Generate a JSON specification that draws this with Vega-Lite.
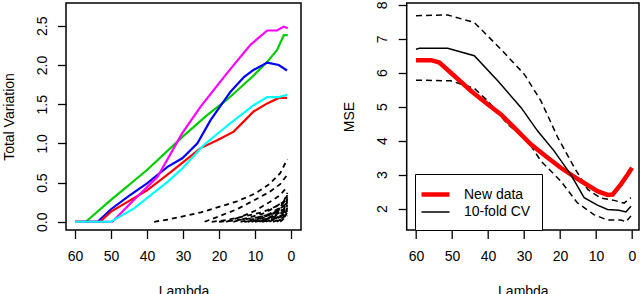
{
"$schema": "https://vega.github.io/schema/vega-lite/v6.json",
"background": "white",
"padding": {"left": 1, "top": 0, "right": 0, "bottom": 0},
"bounds": "flush",
"spacing": 105.7,
"resolve": {"scale": {"color": "independent", "strokeWidth": "independent"}, "legend": {"color": "independent", "strokeWidth": "independent"}},
"datasets": {
"tv": [
{"s":"g","l":60,"v":0},{"s":"g","l":57,"v":0},{"s":"g","l":50,"v":0.28},{"s":"g","l":40,"v":0.66},{"s":"g","l":30,"v":1.09},{"s":"g","l":23.3,"v":1.36},{"s":"g","l":17.7,"v":1.56},{"s":"g","l":10.3,"v":1.87},{"s":"g","l":6.6,"v":2.04},{"s":"g","l":3.9,"v":2.19},{"s":"g","l":2,"v":2.38},{"s":"g","l":0.9,"v":2.38},
{"s":"b","l":60,"v":0},{"s":"b","l":53.7,"v":0},{"s":"b","l":50,"v":0.16},{"s":"b","l":45,"v":0.33},{"s":"b","l":40,"v":0.49},{"s":"b","l":34.3,"v":0.7},{"s":"b","l":30.2,"v":0.81},{"s":"b","l":26,"v":1.0},{"s":"b","l":22.3,"v":1.3},{"s":"b","l":16.8,"v":1.66},{"s":"b","l":13,"v":1.85},{"s":"b","l":10.3,"v":1.94},{"s":"b","l":6.6,"v":2.03},{"s":"b","l":3.4,"v":2.0},{"s":"b","l":1.1,"v":1.93},
{"s":"r","l":60,"v":0},{"s":"r","l":53,"v":0},{"s":"r","l":50,"v":0.13},{"s":"r","l":40,"v":0.4},{"s":"r","l":34.3,"v":0.6},{"s":"r","l":30.2,"v":0.75},{"s":"r","l":25.1,"v":0.94},{"s":"r","l":20.5,"v":1.04},{"s":"r","l":15.9,"v":1.15},{"s":"r","l":10.3,"v":1.41},{"s":"r","l":6.6,"v":1.51},{"s":"r","l":3.4,"v":1.58},{"s":"r","l":1.1,"v":1.58},
{"s":"m","l":60,"v":0},{"s":"m","l":49.6,"v":0},{"s":"m","l":43.6,"v":0.28},{"s":"m","l":37.1,"v":0.57},{"s":"m","l":30.2,"v":1.13},{"s":"m","l":25.1,"v":1.47},{"s":"m","l":17.7,"v":1.9},{"s":"m","l":11.2,"v":2.26},{"s":"m","l":6.6,"v":2.44},{"s":"m","l":3.9,"v":2.44},{"s":"m","l":2,"v":2.49},{"s":"m","l":0.9,"v":2.47},
{"s":"c","l":60,"v":0},{"s":"c","l":50,"v":0},{"s":"c","l":43.6,"v":0.17},{"s":"c","l":34.3,"v":0.51},{"s":"c","l":30.2,"v":0.68},{"s":"c","l":24.2,"v":0.98},{"s":"c","l":16.8,"v":1.26},{"s":"c","l":10.3,"v":1.49},{"s":"c","l":6.6,"v":1.59},{"s":"c","l":3.4,"v":1.59},{"s":"c","l":1.1,"v":1.62}
],
"dash": [
{"s":"d1","l":38,"v":0},{"s":"d1","l":34,"v":0.03},{"s":"d1","l":30,"v":0.07},{"s":"d1","l":25,"v":0.12},{"s":"d1","l":20,"v":0.19},{"s":"d1","l":15,"v":0.26},{"s":"d1","l":10,"v":0.36},{"s":"d1","l":6,"v":0.48},{"s":"d1","l":3,"v":0.62},{"s":"d1","l":1,"v":0.8},
{"s":"d2","l":24,"v":0},{"s":"d2","l":20,"v":0.07},{"s":"d2","l":15,"v":0.16},{"s":"d2","l":10,"v":0.28},{"s":"d2","l":6,"v":0.38},{"s":"d2","l":3,"v":0.48},{"s":"d2","l":1,"v":0.6},
{"s":"d3","l":18,"v":0},{"s":"d3","l":14,"v":0.06},{"s":"d3","l":10,"v":0.14},{"s":"d3","l":6,"v":0.25},{"s":"d3","l":3,"v":0.34},{"s":"d3","l":1,"v":0.45},
{"s":"d4","l":16,"v":0},{"s":"d4","l":12,"v":0.05},{"s":"d4","l":8,"v":0.1},{"s":"d4","l":5,"v":0.17},{"s":"d4","l":2,"v":0.26},{"s":"d4","l":1,"v":0.37},
{"s":"d5","l":14,"v":0},{"s":"d5","l":10,"v":0.04},{"s":"d5","l":6,"v":0.1},{"s":"d5","l":3,"v":0.18},{"s":"d5","l":1,"v":0.32},
{"s":"d6","l":12,"v":0},{"s":"d6","l":8,"v":0.05},{"s":"d6","l":5,"v":0.11},{"s":"d6","l":2,"v":0.2},{"s":"d6","l":1,"v":0.28},
{"s":"d7","l":11,"v":0},{"s":"d7","l":7,"v":0.06},{"s":"d7","l":4,"v":0.14},{"s":"d7","l":1,"v":0.24},
{"s":"d8","l":10,"v":0},{"s":"d8","l":6,"v":0.04},{"s":"d8","l":3,"v":0.1},{"s":"d8","l":1,"v":0.2},
{"s":"d9","l":9,"v":0},{"s":"d9","l":5,"v":0.07},{"s":"d9","l":2,"v":0.15},{"s":"d9","l":1,"v":0.3},
{"s":"d10","l":8,"v":0},{"s":"d10","l":5,"v":0.03},{"s":"d10","l":2,"v":0.09},{"s":"d10","l":1,"v":0.16},
{"s":"d11","l":7,"v":0},{"s":"d11","l":4,"v":0.05},{"s":"d11","l":2,"v":0.12},{"s":"d11","l":1,"v":0.22},
{"s":"d12","l":6,"v":0},{"s":"d12","l":3,"v":0.06},{"s":"d12","l":1,"v":0.14},
{"s":"d13","l":5,"v":0},{"s":"d13","l":3,"v":0.03},{"s":"d13","l":1,"v":0.1},
{"s":"d14","l":4,"v":0},{"s":"d14","l":2,"v":0.05},{"s":"d14","l":1,"v":0.12},
{"s":"d15","l":13,"v":0},{"s":"d15","l":9,"v":0.02},{"s":"d15","l":5,"v":0.05},{"s":"d15","l":2,"v":0.09},{"s":"d15","l":1,"v":0.18},
{"s":"d16","l":20,"v":0},{"s":"d16","l":15,"v":0.02},{"s":"d16","l":10,"v":0.05},{"s":"d16","l":5,"v":0.1},{"s":"d16","l":2,"v":0.16},{"s":"d16","l":1,"v":0.26},
{"s":"d17","l":3,"v":0},{"s":"d17","l":2,"v":0.04},{"s":"d17","l":1,"v":0.08},
{"s":"d18","l":8.5,"v":0},{"s":"d18","l":4,"v":0.1},{"s":"d18","l":1,"v":0.34},
{"s":"d19","l":22,"v":0},{"s":"d19","l":18,"v":0.02},{"s":"d19","l":13,"v":0.07},{"s":"d19","l":8,"v":0.12},{"s":"d19","l":4,"v":0.2},{"s":"d19","l":1,"v":0.28}
],
"main": [
{"s":"New data","l":60,"v":6.37},{"s":"New data","l":55.8,"v":6.37},{"s":"New data","l":53.5,"v":6.3},{"s":"New data","l":49.4,"v":5.91},{"s":"New data","l":44.7,"v":5.46},{"s":"New data","l":40.1,"v":5.07},{"s":"New data","l":36.4,"v":4.77},{"s":"New data","l":32.7,"v":4.38},{"s":"New data","l":28.1,"v":3.89},{"s":"New data","l":23.5,"v":3.5},{"s":"New data","l":19.8,"v":3.2},{"s":"New data","l":14.2,"v":2.81},{"s":"New data","l":9.6,"v":2.51},{"s":"New data","l":6.8,"v":2.4},{"s":"New data","l":5.4,"v":2.41},{"s":"New data","l":3.1,"v":2.71},{"s":"New data","l":1.2,"v":3.0},{"s":"New data","l":0,"v":3.2},
{"s":"10-fold CV","l":60,"v":6.69},{"s":"10-fold CV","l":59,"v":6.72},{"s":"10-fold CV","l":51.2,"v":6.72},{"s":"10-fold CV","l":43.8,"v":6.5},{"s":"10-fold CV","l":37.3,"v":5.76},{"s":"10-fold CV","l":30.8,"v":4.97},{"s":"10-fold CV","l":26.2,"v":4.28},{"s":"10-fold CV","l":21.6,"v":3.69},{"s":"10-fold CV","l":17,"v":3.0},{"s":"10-fold CV","l":13.3,"v":2.32},{"s":"10-fold CV","l":9.6,"v":2.1},{"s":"10-fold CV","l":6.8,"v":1.97},{"s":"10-fold CV","l":3.6,"v":1.95},{"s":"10-fold CV","l":1.7,"v":1.9},{"s":"10-fold CV","l":0.3,"v":2.07}
],
"band": [
{"b":"up","l":60,"v":7.68},{"b":"up","l":51.2,"v":7.7},{"b":"up","l":43.8,"v":7.48},{"b":"up","l":36.4,"v":6.69},{"b":"up","l":29.9,"v":5.95},{"b":"up","l":25.3,"v":5.17},{"b":"up","l":20.6,"v":4.09},{"b":"up","l":16,"v":3.2},{"b":"up","l":12.3,"v":2.56},{"b":"up","l":8.7,"v":2.31},{"b":"up","l":5,"v":2.24},{"b":"up","l":2.2,"v":2.16},{"b":"up","l":0.3,"v":2.32},
{"b":"lo","l":60,"v":5.78},{"b":"lo","l":50.3,"v":5.76},{"b":"lo","l":43.8,"v":5.54},{"b":"lo","l":40.1,"v":5.17},{"b":"lo","l":34.5,"v":4.48},{"b":"lo","l":29,"v":3.99},{"b":"lo","l":25.3,"v":3.4},{"b":"lo","l":19.8,"v":2.81},{"b":"lo","l":15.2,"v":2.17},{"b":"lo","l":10.6,"v":1.82},{"b":"lo","l":6.8,"v":1.66},{"b":"lo","l":3.1,"v":1.66},{"b":"lo","l":1.7,"v":1.61},{"b":"lo","l":0.3,"v":1.78}
]
},
"config": {
"view": {"stroke": "black", "strokeWidth": 1.5},
"font": "Liberation Sans",
"axis": {"domain": false, "grid": false, "tickColor": "black", "tickWidth": 1.3, "tickSize": 8.5, "labelFont": "Liberation Sans", "labelFontSize": 14, "labelColor": "black", "titleFont": "Liberation Sans", "titleFontSize": 14, "titleFontWeight": "normal", "titleColor": "black", "labelFlush": false, "labelOverlap": false}
},
"hconcat": [
{
"width": 235, "height": 227,
"layer": [
{"data": {"name": "tv"}, "mark": {"type": "line", "strokeWidth": 2.2},
 "encoding": {
  "x": {"field": "l", "type": "quantitative", "scale": {"domain": [-2.78, 62.5], "reverse": true, "nice": false, "zero": false}, "axis": {"title": "Lambda", "values": [0,10,20,30,40,50,60], "tickCount": 20, "format": "d", "labelOverlap": false, "labelBaseline": "alphabetic", "labelPadding": 22.3, "titleBaseline": "alphabetic", "titleY": 65.7}},
  "y": {"field": "v", "type": "quantitative", "scale": {"domain": [-0.105, 2.791], "nice": false, "zero": false}, "axis": {"title": "Total Variation", "values": [0,0.5,1,1.5,2,2.5], "tickCount": 20, "format": ".1f", "labelOverlap": false, "labelAngle": 270, "labelAlign": "center", "labelBaseline": "alphabetic", "labelPadding": 11, "titleAngle": 270, "titleAlign": "center", "titleBaseline": "alphabetic", "titleX": -53, "titleY": 113.5}},
  "color": {"field": "s", "type": "nominal", "scale": {"domain": ["r","g","b","c","m"], "range": ["#FF0000","#00CD00","#0000FF","#00FFFF","#FF00FF"]}, "legend": null}
 }},
{"data": {"name": "dash"}, "mark": {"type": "line", "strokeWidth": 1.8, "strokeDash": [5,4], "color": "black"},
 "encoding": {
  "x": {"field": "l", "type": "quantitative"},
  "y": {"field": "v", "type": "quantitative"},
  "detail": {"field": "s", "type": "nominal"}
 }},
{"mark": {"type": "rule", "color": "black", "strokeWidth": 2},
 "encoding": {
  "x": {"datum": 60, "type": "quantitative"},
  "x2": {"datum": 1},
  "y": {"datum": 0, "type": "quantitative"}
 }}
]
},
{
"width": 232.3, "height": 227,
"layer": [
{"data": {"name": "band"}, "mark": {"type": "line", "strokeWidth": 1.5, "strokeDash": [6,4], "color": "black"},
 "encoding": {
  "x": {"field": "l", "type": "quantitative", "scale": {"domain": [-1.94, 62.58], "reverse": true, "nice": false, "zero": false}, "axis": {"title": "Lambda", "values": [0,10,20,30,40,50,60], "tickCount": 20, "format": "d", "labelOverlap": false, "labelBaseline": "alphabetic", "labelPadding": 22.3, "titleBaseline": "alphabetic", "titleY": 65.7}},
  "y": {"field": "v", "type": "quantitative", "scale": {"domain": [1.367, 8.053], "nice": false, "zero": false}, "axis": {"title": "MSE", "values": [2,3,4,5,6,7,8], "tickCount": 20, "format": "d", "labelOverlap": false, "labelAngle": 270, "labelAlign": "center", "labelBaseline": "alphabetic", "labelPadding": 11.5, "titleAngle": 270, "titleAlign": "center", "titleBaseline": "alphabetic", "titleX": -53.7, "titleY": 113.5}},
  "detail": {"field": "b", "type": "nominal"}
 }},
{"data": {"name": "main"}, "mark": {"type": "line"},
 "encoding": {
  "x": {"field": "l", "type": "quantitative"},
  "y": {"field": "v", "type": "quantitative"},
  "color": {"field": "s", "type": "ordinal", "scale": {"domain": ["New data","10-fold CV"], "range": ["#FF0000","#000000"]},
   "legend": {"title": null, "orient": "none", "legendX": 8.3, "legendY": 171, "strokeColor": "black", "fillColor": "white", "padding": 11, "symbolType": "M-2,0H2", "symbolSize": 196, "labelFont": "Liberation Sans", "labelFontSize": 14, "labelColor": "black", "labelOffset": 19, "rowPadding": -2}},
  "strokeWidth": {"field": "s", "type": "ordinal", "scale": {"domain": ["New data","10-fold CV"], "range": [4.5, 1.5]},
   "legend": {"title": null, "orient": "none", "legendX": 8.3, "legendY": 171, "strokeColor": "black", "fillColor": "white", "padding": 11, "symbolType": "M-2,0H2", "symbolSize": 196, "labelFont": "Liberation Sans", "labelFontSize": 14, "labelColor": "black", "labelOffset": 19, "rowPadding": -2}}
 }}
]
}
]
}
